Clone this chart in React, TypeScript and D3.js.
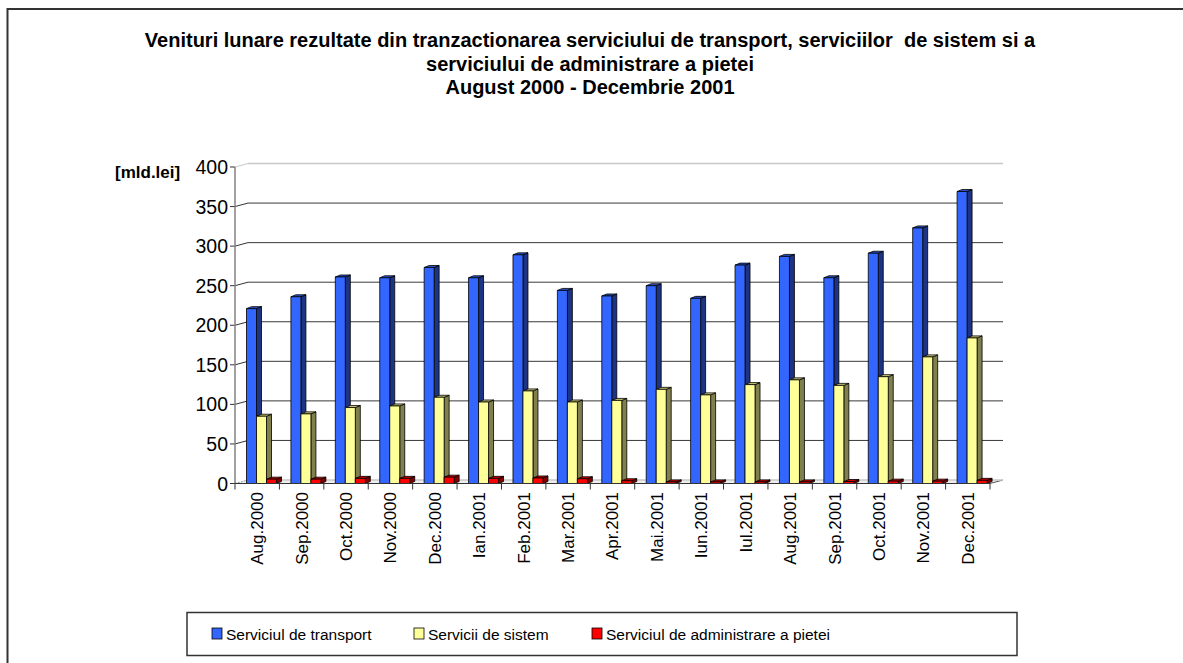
import React from "react";
import * as d3 from "d3";

const categories = ["Aug.2000","Sep.2000","Oct.2000","Nov.2000","Dec.2000","Ian.2001","Feb.2001","Mar.2001","Apr.2001","Mai.2001","Iun.2001","Iul.2001","Aug.2001","Sep.2001","Oct.2001","Nov.2001","Dec.2001"];
const transport = [221, 236, 261, 260, 273, 260, 289, 244, 237, 250, 234, 276, 287, 260, 291, 323, 369];
const sistem = [85, 88, 96, 98, 109, 103, 117, 103, 105, 119, 112, 125, 131, 124, 135, 160, 184];
const administrare = [5.5, 5.5, 6.5, 6.5, 8, 6.5, 7, 6, 3.5, 2, 2, 2, 2, 2.5, 3, 3, 4];
const seriesNames = ["Serviciul de transport", "Servicii de sistem", "Serviciul de administrare a pietei"];
const yTicks = [0, 50, 100, 150, 200, 250, 300, 350, 400];
const titleLines = [
  "Venituri lunare rezultate din tranzactionarea serviciului de transport, serviciilor  de sistem si a",
  "serviciului de administrare a pietei",
  "August 2000 - Decembrie 2001",
];

const colors = [
  { front: "#3366FF", side: "#1C3483", top: "#2A52CC" },
  { front: "#FFFF99", side: "#80804F", top: "#CCCC7A" },
  { front: "#FF0000", side: "#800000", top: "#CC0000" },
];

export default function App() {
  const W = 1183, H = 663;
  const x0 = 235, x1 = 990;
  const depthX = 13, depthY = -3.5;
  const barDX = 5, barDY = -2;
  const y = d3.scaleLinear().domain([0, 400]).range([483.5, 167]);
  const x = d3.scaleBand<string>().domain(categories).range([x0, x1]).paddingInner(0).paddingOuter(0);
  const inner = d3.scaleBand<string>().domain(seriesNames).range([11.5, 41.5]);
  const data = [transport, sistem, administrare];
  const font = "Arial, 'Liberation Sans', sans-serif";

  const bars: JSX.Element[] = [];
  categories.forEach((c, i) => {
    seriesNames.forEach((s, k) => {
      const v = data[k][i];
      const bx = (x(c) as number) + (inner(s) as number);
      const bw = inner.bandwidth();
      const top = y(v);
      const bottom = y(0);
      const col = colors[k];
      bars.push(
        <g key={`${i}-${k}`} stroke="#000" strokeWidth={0.8} strokeLinejoin="round">
          <polygon points={`${bx + bw},${bottom} ${bx + bw + barDX},${bottom + barDY} ${bx + bw + barDX},${top + barDY} ${bx + bw},${top}`} fill={col.side} />
          <polygon points={`${bx},${top} ${bx + barDX},${top + barDY} ${bx + bw + barDX},${top + barDY} ${bx + bw},${top}`} fill={col.top} />
          <rect x={bx} y={top} width={bw} height={bottom - top} fill={col.front} />
        </g>
      );
    });
  });

  return (
    <svg width={W} height={H} style={{ position: "absolute", left: 0, top: 0 }} fontFamily={font}>
      <rect x={0} y={0} width={W} height={H} fill="#fff" />
      <rect x={7.5} y={9} width={W + 10} height={H + 10} fill="none" stroke="#333" strokeWidth={2} />
      {titleLines.map((t, i) => (
        <text key={i} x={590} y={47 + i * 23.5} textAnchor="middle" fontWeight="bold" fontSize={20} style={{ whiteSpace: "pre" }}>{t}</text>
      ))}
      {/* floor */}
      <polygon points={`${x0},${y(0)} ${x1},${y(0)} ${x1 + depthX},${y(0) + depthY} ${x0 + depthX},${y(0) + depthY}`} fill="#eeeeee" stroke="none" />
      <line x1={x0} y1={y(0)} x2={x0 + depthX} y2={y(0) + depthY} stroke="#999" strokeDasharray="2,1" />
      <line x1={x1} y1={y(0)} x2={x1 + depthX} y2={y(0) + depthY} stroke="#555" />
      {/* back gridlines */}
      {yTicks.map((t) => (
        <g key={t}>
          <line x1={x0 + depthX} x2={x1 + depthX} y1={y(t) + depthY} y2={y(t) + depthY}
            stroke={t === 0 || t === 400 ? "#c8c8c8" : "#3a3a3a"} strokeWidth={t === 0 || t === 400 ? 1.5 : 1} />
          {t > 0 && <line x1={x0} y1={y(t)} x2={x0 + depthX} y2={y(t) + depthY} stroke={t === 400 ? "#c8c8c8" : "#333"} />}
          <line x1={x0 - 5} x2={x0} y1={y(t)} y2={y(t)} stroke="#333" />
          <text x={228} y={y(t)} dy="0.36em" textAnchor="end" fontSize={19.5}>{t}</text>
        </g>
      ))}
      <line x1={x0} x2={x0} y1={y(400)} y2={y(0)} stroke="#808080" strokeWidth={1.5} />
      <text x={115} y={172} dy="0.35em" fontWeight="bold" fontSize={17}>[mld.lei]</text>
      {bars}
      <line x1={x0} x2={x1} y1={y(0)} y2={y(0)} stroke="#333" strokeWidth={1.2} />
      {categories.map((c, i) => (
        <line key={c} x1={(x(c) as number) + x.bandwidth()} x2={(x(c) as number) + x.bandwidth()} y1={y(0)} y2={y(0) + 6} stroke="#333" />
      ))}
      <line x1={x0} x2={x0} y1={y(0)} y2={y(0) + 6} stroke="#333" />
      {categories.map((c) => {
        const cx = (x(c) as number) + x.bandwidth() / 2;
        return (
          <text key={c} transform={`translate(${cx},492) rotate(-90)`} textAnchor="end" dy="0.35em" fontSize={17}>{c}</text>
        );
      })}
      {/* legend */}
      <rect x={187} y={612.5} width={830} height={43} fill="#fff" stroke="#333" strokeWidth={1.5} />
      {seriesNames.map((s, k) => {
        const lx = [212, 414, 592][k];
        return (
          <g key={s}>
            <rect x={lx} y={628} width={10} height={11} fill={colors[k].front} stroke="#000" strokeWidth={0.8} />
            <text x={lx + 14} y={639.5} fontSize={15.5}>{s}</text>
          </g>
        );
      })}
    </svg>
  );
}
